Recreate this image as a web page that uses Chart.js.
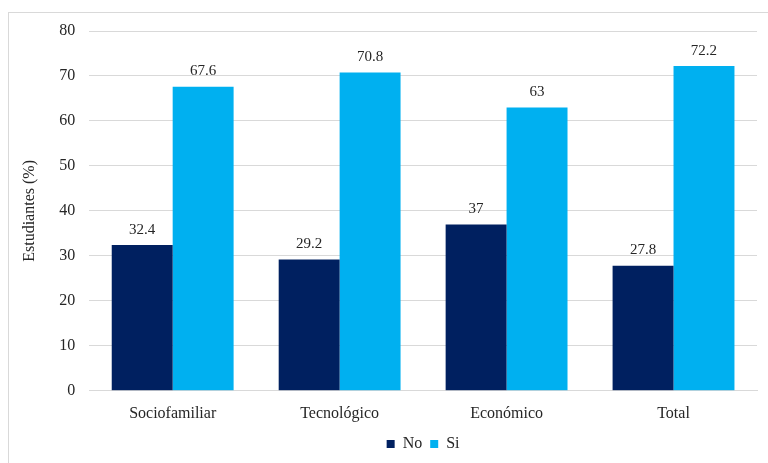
<!DOCTYPE html>
<html>
<head>
<meta charset="utf-8">
<script src="https://cdn.jsdelivr.net/npm/chart.js@4"></script>
<style>
  html, body { margin: 0; padding: 0; background: #fff; overflow: hidden; }
  #frame {
    position: absolute; left: 8px; top: 12px;
    width: 780px; height: 470px;
    border: 1px solid #d9d9d9; box-sizing: border-box;
  }
  #wrap { position: absolute; left: 0; top: 0; width: 768px; height: 463px; }
</style>
</head>
<body>
<div id="frame"></div>
<div id="wrap"><canvas id="chart" width="768" height="463"></canvas></div>
<script>
// datos del gráfico
const categorias = ['Sociofamiliar', 'Tecnológico', 'Económico', 'Total'];
const valoresNo = [32.4, 29.2, 37, 27.8];
const valoresSi = [67.6, 70.8, 63, 72.2];
const ticksY = [0, 10, 20, 30, 40, 50, 60, 70, 80];

const fuente = "'Liberation Serif', 'Times New Roman', serif";

// etiquetas de valor encima de cada barra
const etiquetas = {
    id: 'etiquetas',
    afterLayout(chart) {
        // centrar la leyenda sobre el área del gráfico
        const lg = chart.legend;
        lg.left = chart.chartArea.left;
        lg.right = chart.chartArea.right;
        lg.width = lg.right - lg.left;
    },
    afterDatasetsDraw(chart) {
        const ctx = chart.ctx;
        ctx.save();
        ctx.font = '15px ' + fuente;
        ctx.fillStyle = '#262626';
        ctx.textAlign = 'center';
        ctx.textBaseline = 'bottom';
        chart.data.datasets.forEach((ds, i) => {
            chart.getDatasetMeta(i).data.forEach((bar, j) => {
                ctx.fillText(String(ds.data[j]), bar.x, bar.y - 8);
            });
        });
        ctx.restore();
    }
};

new Chart(document.getElementById('chart'), {
    type: 'bar',
    data: {
        labels: categorias,
        datasets: [
            { label: 'No', data: valoresNo, backgroundColor: '#002060' },
            { label: 'Si', data: valoresSi, backgroundColor: '#00b0f0' }
        ]
    },
    options: {
        responsive: false,
        animation: false,
        devicePixelRatio: 1,
        layout: { padding: { left: 16, right: 11, top: 31, bottom: 1 } },
        datasets: { bar: { categoryPercentage: 0.73, barPercentage: 1 } },
        scales: {
            x: {
                grid: { display: false },
                border: { color: '#d9d9d9' },
                ticks: { color: '#262626', font: { family: fuente, size: 16 }, padding: 5, maxRotation: 0 }
            },
            y: {
                min: 0, max: 80,
                afterBuildTicks(axis) { axis.ticks = ticksY.map(v => ({ value: v })); },
                grid: { color: '#d9d9d9', drawTicks: false },
                border: { display: false },
                ticks: { color: '#262626', font: { family: fuente, size: 16 }, padding: 14 },
                title: { display: true, text: 'Estudiantes (%)', color: '#262626',
                         font: { family: fuente, size: 16 }, padding: { bottom: 6 } }
            }
        },
        plugins: {
            legend: {
                position: 'bottom',
                labels: { color: '#262626', font: { family: fuente, size: 16 },
                          boxWidth: 8, boxHeight: 8, padding: 8 }
            },
            tooltip: { enabled: false }
        }
    },
    plugins: [etiquetas]
});
</script>
</body>
</html>
